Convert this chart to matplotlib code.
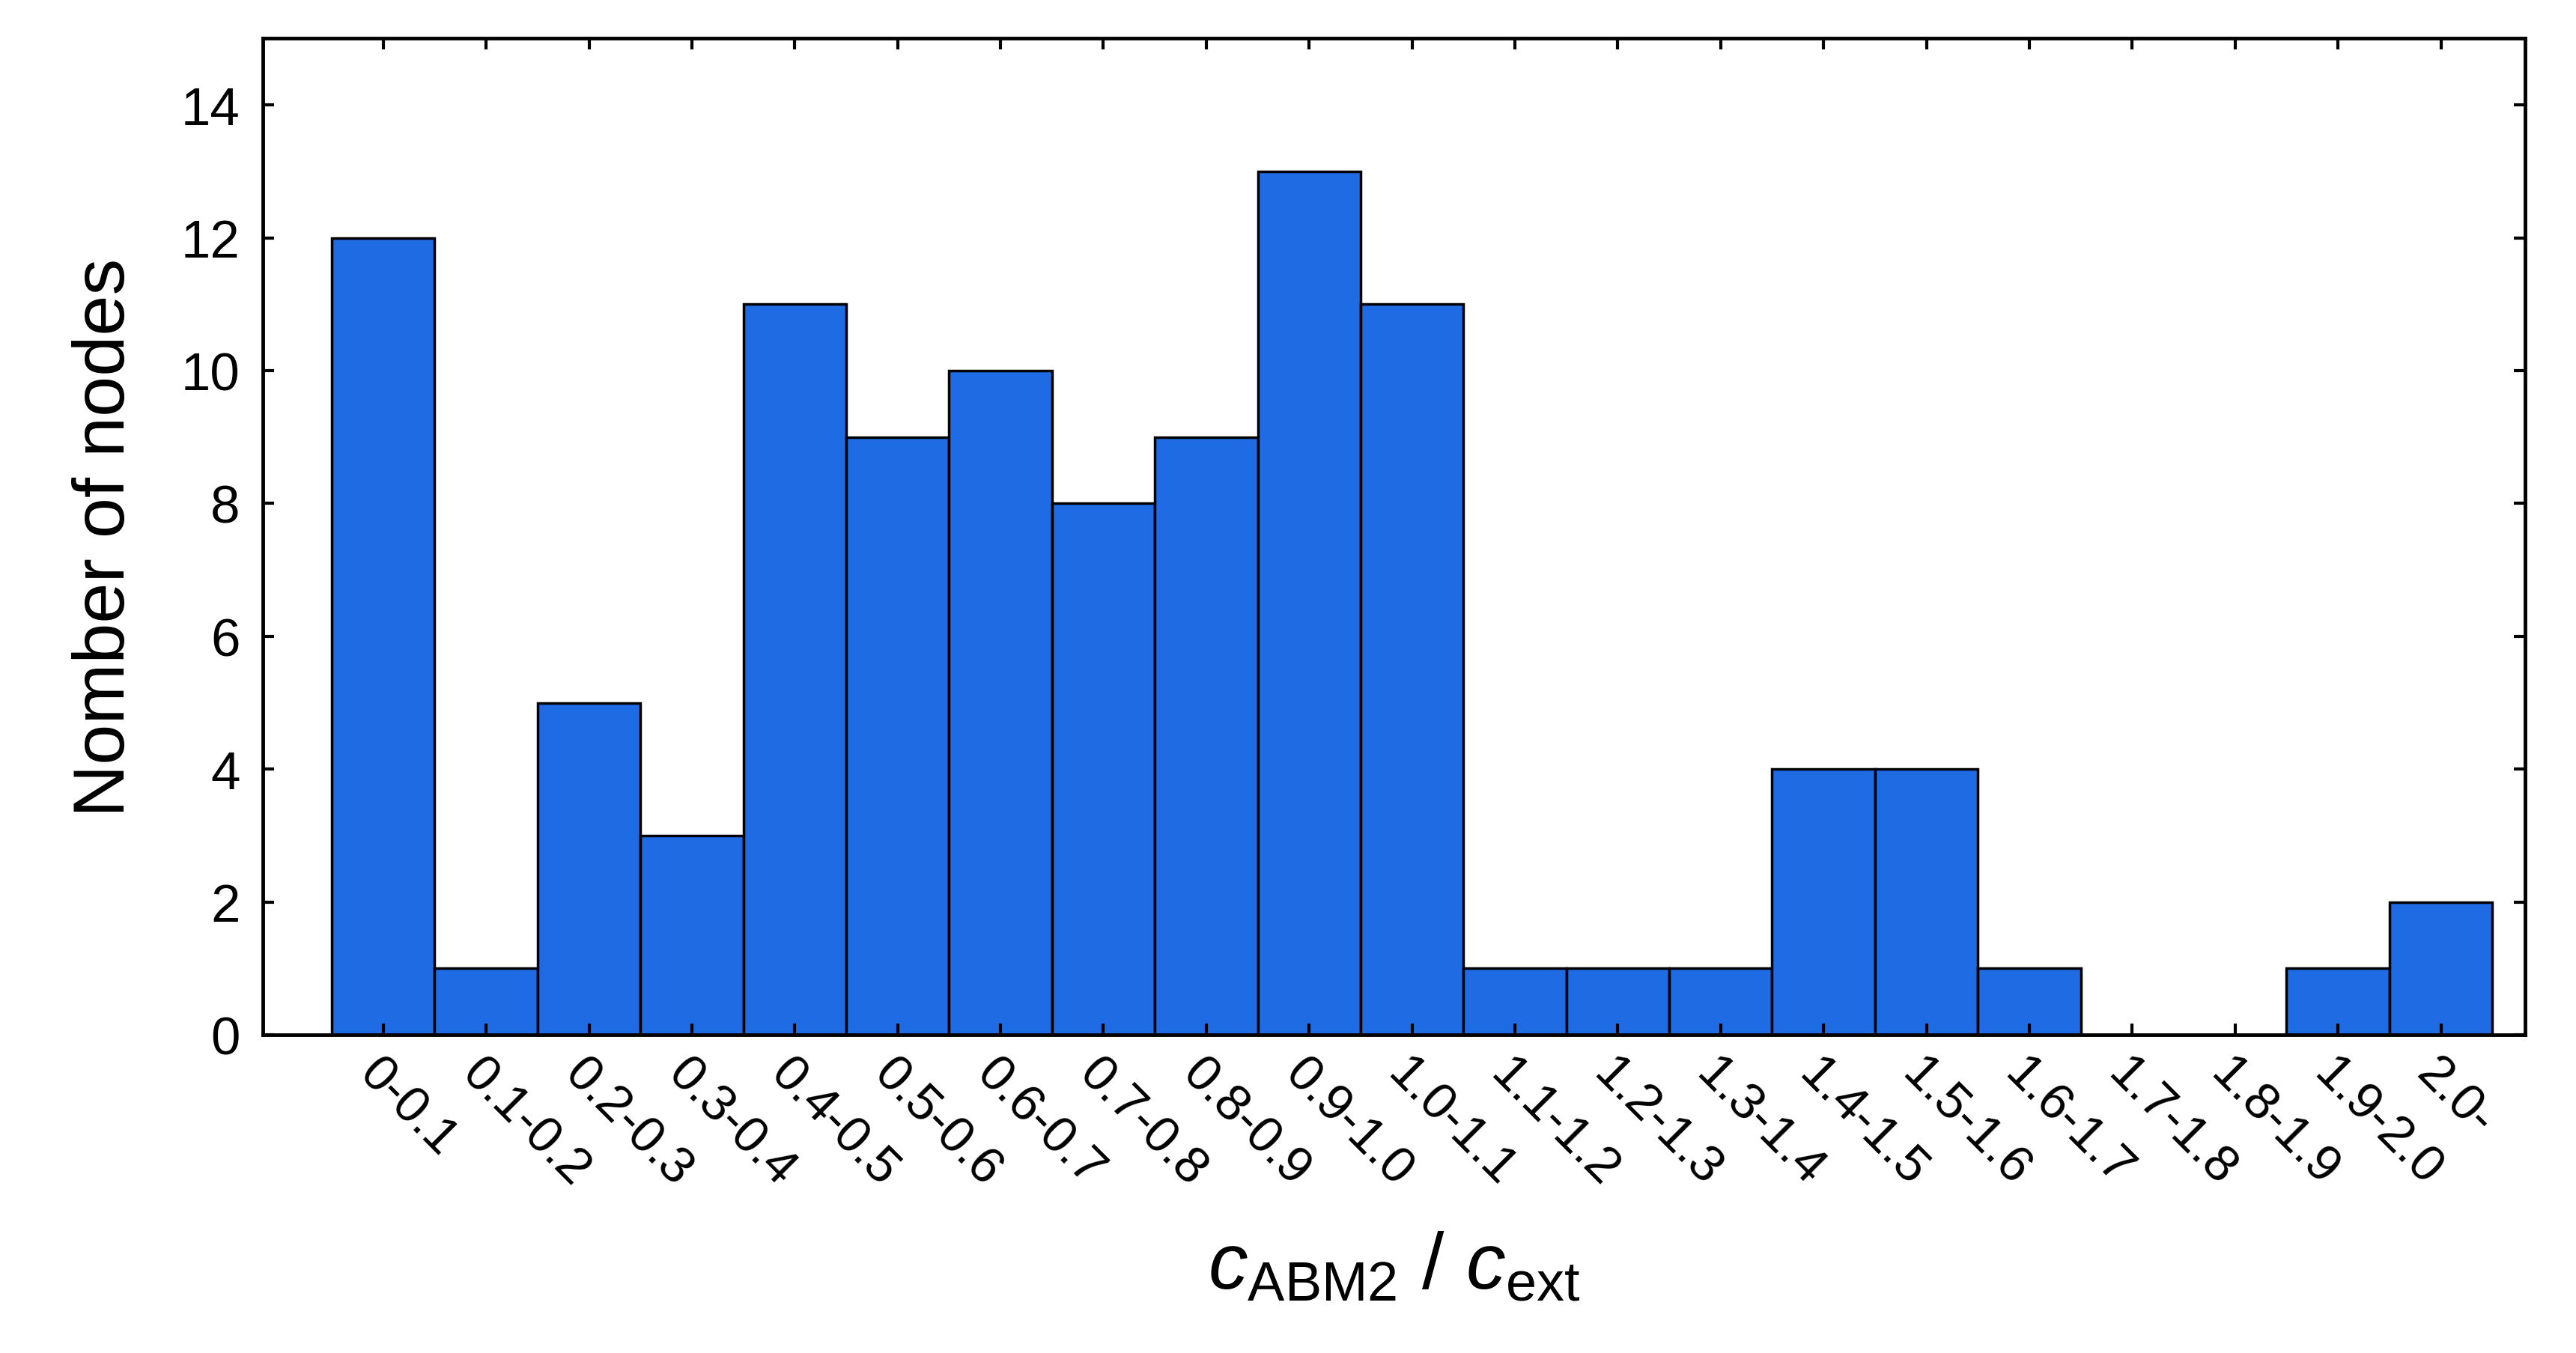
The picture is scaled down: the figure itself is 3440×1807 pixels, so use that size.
import matplotlib.pyplot as plt

plt.rcParams['font.family'] = ['Liberation Sans', 'DejaVu Sans']
plt.rcParams['mathtext.fontset'] = 'custom'
plt.rcParams['mathtext.rm'] = 'Liberation Sans'
plt.rcParams['mathtext.it'] = 'Liberation Sans:italic'

categories = ["0-0.1", "0.1-0.2", "0.2-0.3", "0.3-0.4", "0.4-0.5", "0.5-0.6", "0.6-0.7",
              "0.7-0.8", "0.8-0.9", "0.9-1.0", "1.0-1.1", "1.1-1.2", "1.2-1.3", "1.3-1.4",
              "1.4-1.5", "1.5-1.6", "1.6-1.7", "1.7-1.8", "1.8-1.9", "1.9-2.0", "2.0-"]
counts = [12, 1, 5, 3, 11, 9, 10, 8, 9, 13, 11, 1, 1, 1, 4, 4, 1, 0, 0, 1, 2]
y_ticks = [0, 2, 4, 6, 8, 10, 12, 14]

fig = plt.figure(figsize=(34.41, 18.08), dpi=100)
ax = fig.add_axes([0.102, 0.235, 0.878, 0.736])

x = list(range(len(categories)))
ax.bar(x, counts, width=1.0, color='#1e6be3', edgecolor='black', linewidth=2.5)

ax.set_xlim(-1.17, 20.82)
ax.set_ylim(0, 15)
ax.set_yticks(y_ticks)
ax.set_xticks(x)
ax.set_xticklabels(categories, rotation=-45, ha='left', va='top', rotation_mode='anchor')

ax.tick_params(direction='in', length=11, width=3, top=True, right=True)
ax.tick_params(axis='y', labelsize=51, pad=22)
ax.tick_params(axis='x', labelsize=49, pad=14)
for s in ax.spines.values():
    s.set_linewidth(3.5)

ax.set_ylabel('Nomber of nodes', fontsize=70, labelpad=40)
ax.set_xlabel(r'$c_{\mathrm{ABM2}}$ / $c_{\mathrm{ext}}$', fontsize=76, labelpad=34)

plt.savefig('out.png', dpi=100)
